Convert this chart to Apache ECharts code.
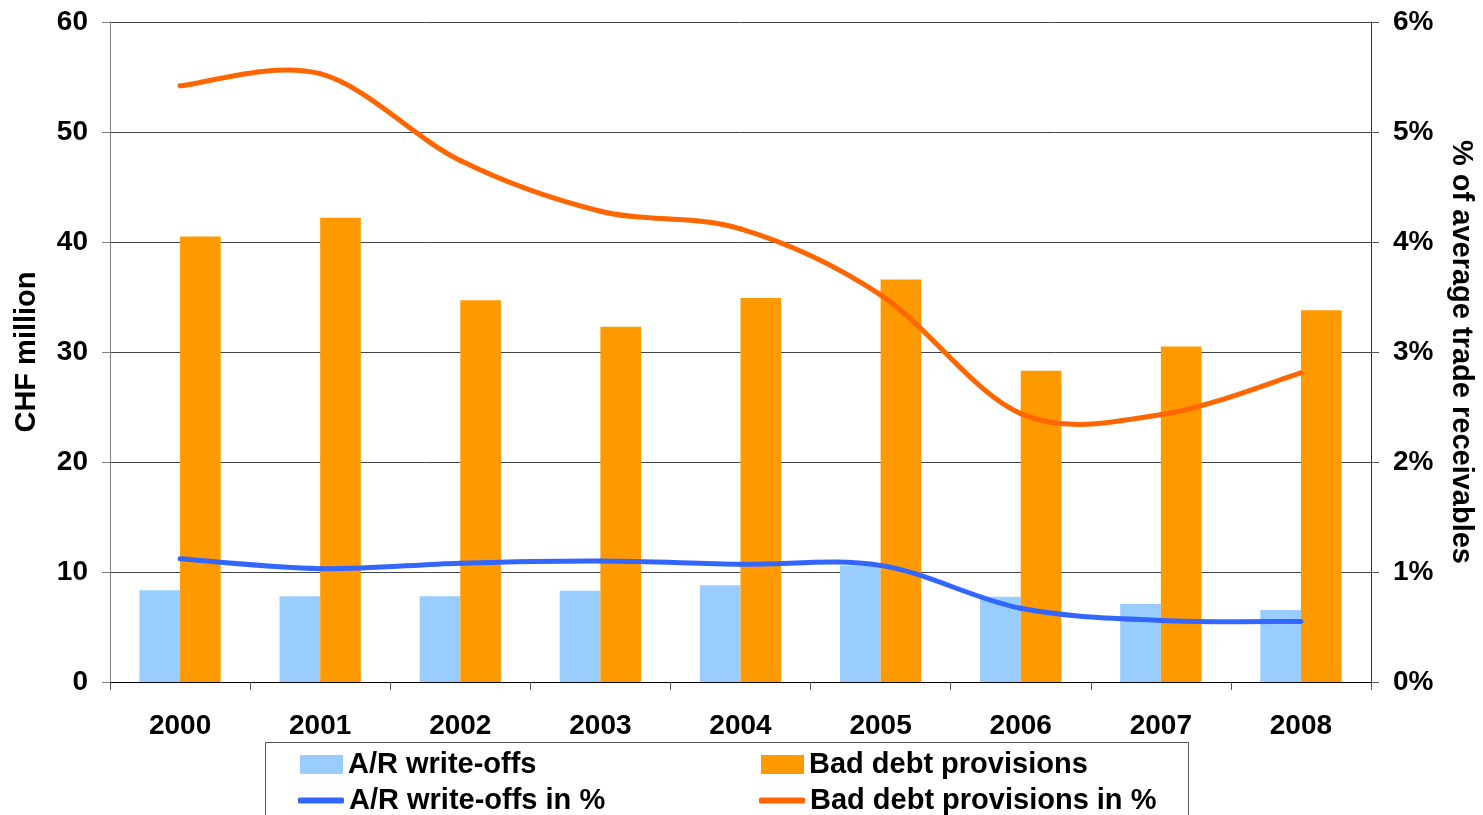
<!DOCTYPE html>
<html>
<head>
<meta charset="utf-8">
<script src="https://cdn.jsdelivr.net/npm/echarts@6/dist/echarts.min.js"></script>
<style>
html,body{margin:0;padding:0;background:#fff;overflow:hidden;}
#chart{width:1483px;height:815px;}
</style>
</head>
<body>
<div id="chart"></div>
<script>
const years = ['2000','2001','2002','2003','2004','2005','2006','2007','2008'];
const arWriteOffs = [8.35, 7.8, 7.8, 8.3, 8.8, 10.6, 7.75, 7.1, 6.55];
const badDebtProvisions = [40.5, 42.2, 34.7, 32.3, 34.9, 36.6, 28.3, 30.5, 33.8];
const arWriteOffsPct = [1.12, 1.03, 1.08, 1.10, 1.07, 1.06, 0.67, 0.56, 0.55];
const badDebtProvisionsPct = [5.42, 5.53, 4.74, 4.28, 4.12, 3.52, 2.44, 2.43, 2.81];
const leftTicks = {min: 0, max: 60, interval: 10};
const rightTicks = {min: 0, max: 6, interval: 1};

const FONT = '"Liberation Sans", Arial, sans-serif';
const chart = echarts.init(document.getElementById('chart'), null, {renderer: 'canvas', width: 1483, height: 815});
const txt = {fontFamily: FONT, fontWeight: 'bold', color: '#000'};

// Excel-like smoothed line (Catmull-Rom style Bezier), one segment per data item
function smoothRenderer(values, color) {
  return function (params, api) {
    const i = params.dataIndex;
    if (i >= values.length - 1) return null;
    const pt = k => {
      const kk = Math.max(0, Math.min(values.length - 1, k));
      return api.coord([kk, values[kk]]);
    };
    const p0 = pt(i - 1), p1 = pt(i), p2 = pt(i + 1), p3 = pt(i + 2);
    const t = 1 / 6;
    return {
      type: 'bezierCurve',
      shape: {
        x1: p1[0], y1: p1[1], x2: p2[0], y2: p2[1],
        cpx1: p1[0] + (p2[0] - p0[0]) * t, cpy1: p1[1] + (p2[1] - p0[1]) * t,
        cpx2: p2[0] - (p3[0] - p1[0]) * t, cpy2: p2[1] - (p3[1] - p1[1]) * t
      },
      style: {stroke: color, lineWidth: 5, fill: null, lineCap: 'round'}
    };
  };
}

function legendItem(name, left, top, w, h, icon) {
  return {
    orient: 'horizontal', left: left, top: top, padding: 0,
    itemWidth: w, itemHeight: h, itemGap: 0,
    textStyle: Object.assign({fontSize: 29, lineHeight: 28}, txt),
    data: [{name: name, icon: icon}]
  };
}

chart.setOption({
  animation: false,
  backgroundColor: '#fff',
  grid: {left: 110, width: 1265, top: 22, bottom: 133, containLabel: false},
  legend: [
    legendItem('A/R write-offs', 300, 750, 43, 19, 'rect'),
    legendItem('A/R write-offs in %', 298, 786, 46, 6, 'roundRect'),
    legendItem('Bad debt provisions', 761, 750, 43, 19, 'rect'),
    legendItem('Bad debt provisions in %', 759, 786, 46, 6, 'roundRect')
  ],
  graphic: [
    {type: 'rect', shape: {x: 265.5, y: 742.5, width: 923, height: 100},
     style: {fill: 'none', stroke: '#555', lineWidth: 1}, silent: true, z: -1}
  ],
  xAxis: {
    type: 'category',
    data: years,
    axisLine: {lineStyle: {color: '#000', width: 1}},
    axisTick: {show: true, length: 8, lineStyle: {color: '#555'}},
    axisLabel: Object.assign({fontSize: 28, margin: 30}, txt)
  },
  yAxis: [
    {
      type: 'value', min: leftTicks.min, max: leftTicks.max, interval: leftTicks.interval,
      name: 'CHF million', nameLocation: 'middle', nameGap: 69, nameRotate: 90,
      nameTextStyle: Object.assign({fontSize: 29}, txt),
      axisLine: {show: true, lineStyle: {color: '#808080', width: 1}},
      axisTick: {show: true, length: 8, lineStyle: {color: '#808080'}},
      axisLabel: Object.assign({fontSize: 28, margin: 22}, txt),
      splitLine: {show: true, lineStyle: {color: '#444', width: 1}}
    },
    {
      type: 'value', min: rightTicks.min, max: rightTicks.max, interval: rightTicks.interval,
      position: 'right',
      name: '% of average trade receivables', nameLocation: 'middle', nameGap: 75, nameRotate: -90,
      nameTextStyle: Object.assign({fontSize: 29}, txt),
      axisLine: {show: true, lineStyle: {color: '#333', width: 1}},
      axisTick: {show: true, length: 8, lineStyle: {color: '#555'}},
      axisLabel: Object.assign({fontSize: 28, margin: 22, formatter: '{value}%'}, txt),
      splitLine: {show: false}
    }
  ],
  series: [
    {
      name: 'A/R write-offs', type: 'bar', yAxisIndex: 0, data: arWriteOffs,
      itemStyle: {color: '#99CCFF'}, barGap: '0%', barCategoryGap: '42%'
    },
    {
      name: 'Bad debt provisions', type: 'bar', yAxisIndex: 0, data: badDebtProvisions,
      itemStyle: {color: '#FF9900'}, barGap: '0%', barCategoryGap: '42%'
    },
    {
      name: 'A/R write-offs in %', type: 'custom', yAxisIndex: 1,
      data: arWriteOffsPct.map((v, i) => [i, v]),
      encode: {x: 0, y: 1},
      renderItem: smoothRenderer(arWriteOffsPct, '#3366FF'),
      itemStyle: {color: '#3366FF'}, z: 5, clip: false
    },
    {
      name: 'Bad debt provisions in %', type: 'custom', yAxisIndex: 1,
      data: badDebtProvisionsPct.map((v, i) => [i, v]),
      encode: {x: 0, y: 1},
      renderItem: smoothRenderer(badDebtProvisionsPct, '#FF6600'),
      itemStyle: {color: '#FF6600'}, z: 5, clip: false
    }
  ]
});
</script>
</body>
</html>
